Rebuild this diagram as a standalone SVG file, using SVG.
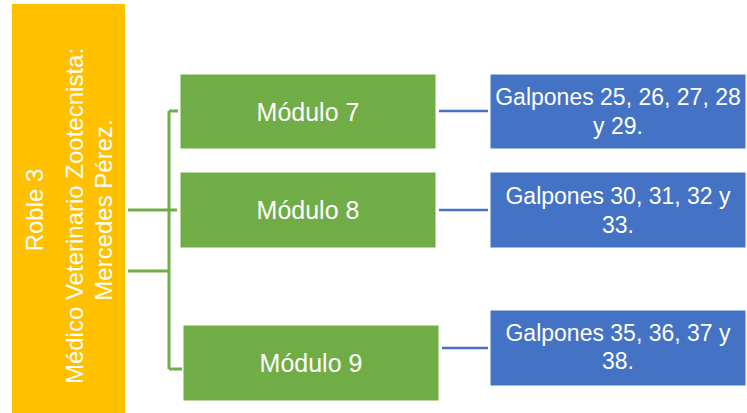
<svg xmlns="http://www.w3.org/2000/svg" width="747" height="413" viewBox="0 0 747 413">
<style>
.t{font-family:"Liberation Sans",Arial,sans-serif;fill:#fff;text-anchor:middle}
.g{fill:#70AD47;stroke:#fff;stroke-width:1}
.b{fill:#4472C4;stroke:#fff;stroke-width:1}
.cg{fill:none;stroke:#70AD47;stroke-width:3}
.cb{fill:none;stroke:#4472C4;stroke-width:2.5}
</style>
<rect width="747" height="413" fill="#fff"/>
<g id="root">
<rect x="12" y="4" width="113" height="409" fill="#FFC000"/>
<g transform="translate(0,0)">
<text class="t" font-size="24" transform="translate(43,210) rotate(-90)">Roble 3</text>
<text class="t" font-size="24" transform="translate(83,216) rotate(-90)">Médico Veterinario Zootecnista:</text>
<text class="t" font-size="24" transform="translate(112,210) rotate(-90)">Mercedes Pérez.</text>
</g>
</g>
<g id="connectors">
<path class="cg" d="M128 210H177M128 271H169M169 111V369M169 111H178M169 369H182"/>
<path class="cb" d="M439 111H488M439 210H488M442 348H488"/>
</g>
<g id="mod7">
<rect class="g" x="180" y="74" width="256" height="75"/>
<text class="t" font-size="25" x="308" y="121">Módulo 7</text>
</g>
<g id="mod8">
<rect class="g" x="180" y="172" width="256" height="76"/>
<text class="t" font-size="25" x="308" y="219">Módulo 8</text>
</g>
<g id="mod9">
<rect class="g" x="183" y="325" width="256" height="76"/>
<text class="t" font-size="25" x="311" y="372">Módulo 9</text>
</g>
<g id="gal1">
<rect class="b" x="490" y="74" width="256" height="75"/>
<text class="t" font-size="23" x="618" y="105">Galpones 25, 26, 27, 28</text>
<text class="t" font-size="23" x="618" y="134">y 29.</text>
</g>
<g id="gal2">
<rect class="b" x="490" y="172" width="256" height="76"/>
<text class="t" font-size="23" x="618" y="204">Galpones 30, 31, 32 y</text>
<text class="t" font-size="23" x="618" y="233">33.</text>
</g>
<g id="gal3">
<rect class="b" x="490" y="310" width="256" height="76"/>
<text class="t" font-size="23" x="618" y="341">Galpones 35, 36, 37 y</text>
<text class="t" font-size="23" x="618" y="369">38.</text>
</g>
</svg>
